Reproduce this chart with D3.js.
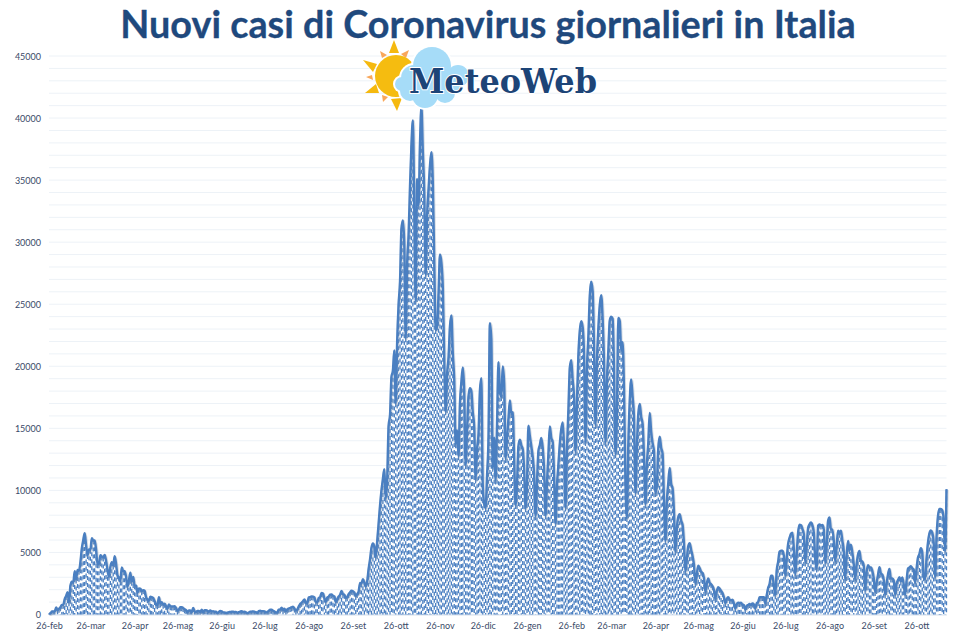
<!DOCTYPE html>
<html>
<head>
<meta charset="utf-8">
<script src="https://cdn.jsdelivr.net/npm/d3@7"></script>
<style>
  html, body { margin: 0; padding: 0; background: #fff; }
  svg { display: block; }
</style>
</head>
<body>
<script>
// daily new cases, month by month, starting 26 feb 2020
const feb20 = [93, 78, 250, 238];
const mar20 = [240, 566, 347, 466, 587, 769, 778, 1247, 1492, 1797, 977, 2313, 2651, 2547, 3497, 2823, 3590, 3531, 4207, 5322, 5986, 6557, 5560, 4789, 5249, 5210, 6153, 5959, 5974, 5217, 4050];
const apr20 = [4053, 4782, 4668, 4585, 4805, 4316, 3599, 3039, 3836, 4204, 3951, 4694, 4092, 3153, 2972, 2667, 3786, 3493, 3491, 3047, 2256, 2729, 3370, 2646, 3021, 2357, 2324, 1739, 2091, 2086];
const may20 = [1872, 1965, 1900, 1389, 1221, 1075, 1444, 1401, 1327, 1083, 802, 744, 1402, 888, 992, 789, 875, 675, 451, 813, 665, 642, 652, 669, 531, 300, 397, 584, 593, 516, 416];
const jun20 = [355, 178, 318, 321, 177, 518, 270, 197, 280, 283, 202, 379, 163, 346, 338, 301, 210, 328, 251, 262, 224, 218, 122, 190, 296, 259, 175, 174, 126, 142];
const jul20 = [187, 201, 223, 235, 192, 208, 138, 193, 229, 276, 188, 234, 169, 114, 162, 230, 233, 249, 219, 190, 129, 280, 306, 252, 275, 255, 170, 212, 289, 386, 379];
const aug20 = [295, 239, 159, 190, 384, 402, 552, 347, 463, 259, 412, 481, 523, 574, 629, 479, 320, 403, 642, 845, 947, 1071, 1210, 953, 878, 1367, 1411, 1462, 1444, 1365, 996];
const sep20 = [978, 1326, 1397, 1733, 1695, 1297, 1008, 1370, 1434, 1597, 1616, 1501, 1458, 1008, 1229, 1452, 1585, 1907, 1638, 1587, 1350, 1392, 1640, 1786, 1912, 1869, 1766, 1494, 1648, 1851];
const oct20 = [2548, 2499, 2844, 2578, 2257, 2677, 3678, 4458, 5372, 5724, 5456, 4619, 5901, 7332, 8804, 10010, 10925, 11705, 9338, 10874, 15199, 16079, 19143, 19644, 21273, 17012, 21994, 24991, 26831, 31084, 31758];
const nov20 = [29907, 22253, 28244, 30550, 34505, 37809, 39811, 32616, 25271, 35098, 32961, 37978, 40902, 37255, 33979, 27354, 32191, 34283, 36176, 37242, 34767, 28337, 22930, 23232, 25853, 29003, 28352, 26323, 20648, 16377];
const dec20 = [19350, 20709, 23225, 24099, 21052, 18887, 13720, 14842, 12756, 16999, 18727, 19903, 17938, 12030, 14844, 17572, 18236, 17992, 16308, 15104, 10872, 13318, 14522, 18040, 19037, 10407, 8913, 8585, 11212, 14245, 23477];
const jan21 = [22211, 11831, 14245, 10800, 15378, 20331, 18020, 17533, 19978, 18627, 12532, 14242, 15774, 17246, 16146, 16310, 12545, 8824, 10497, 13571, 14078, 13633, 13331, 11629, 8562, 10593, 15204, 14372, 13574, 12715, 11252];
const feb21 = [7925, 10630, 13189, 13659, 14218, 13442, 11641, 7969, 10630, 12956, 15146, 14234, 13908, 11068, 7351, 10386, 12074, 13762, 14931, 15479, 13452, 8620, 13314, 16424, 19886, 20499, 18916, 17455];
const mar21 = [13114, 17083, 20884, 22865, 23641, 23146, 20765, 13902, 19749, 22409, 25673, 26824, 26062, 21315, 15267, 20396, 23059, 24935, 25735, 23832, 20159, 13846, 18765, 21267, 23696, 23987, 23839, 19611, 12916, 16017, 23904];
const apr21 = [23649, 21261, 21932, 18025, 10680, 7767, 13708, 17221, 18938, 17567, 15746, 9789, 13447, 16168, 16974, 15943, 15370, 12694, 8864, 12074, 13844, 16232, 14761, 13817, 13158, 9789, 10404, 13385, 14320, 13446];
const may21 = [12965, 9148, 5948, 9116, 10585, 11807, 10554, 10176, 8292, 5080, 6946, 7852, 8085, 7567, 7234, 5753, 3455, 4452, 5506, 5741, 5218, 4717, 3995, 2490, 3224, 3937, 3738, 3447, 3351, 2949, 1820];
const jun21 = [2483, 2897, 2557, 2436, 2275, 1968, 1273, 1896, 2199, 2079, 1901, 1723, 1390, 907, 1255, 1400, 1197, 1147, 1197, 881, 495, 835, 953, 927, 951, 786, 778, 381, 679, 776];
const jul21 = [845, 753, 882, 808, 480, 907, 1010, 1394, 1390, 1400, 1391, 888, 1554, 2153, 2455, 3121, 3127, 2329, 1552, 3558, 4259, 5057, 5143, 5140, 4743, 3117, 4522, 5696, 6171, 6513, 6599];
const aug21 = [5321, 3190, 4845, 6596, 7230, 7210, 6902, 6487, 4197, 5512, 6968, 7270, 7409, 7188, 6599, 4456, 3700, 7162, 7260, 7162, 7224, 6860, 4168, 5559, 7548, 7826, 6860, 6861, 5959, 4257, 5498];
const sep21 = [6761, 6503, 6761, 5959, 5117, 2800, 4720, 5923, 5193, 5621, 5000, 4060, 2800, 4021, 4830, 5117, 4361, 4260, 3930, 1932, 3377, 3970, 3797, 3797, 3525, 2923, 1820, 2529, 3212, 3804];
const oct21 = [3312, 3212, 2800, 1612, 2466, 3235, 3677, 2900, 2900, 2748, 1597, 2494, 2772, 3000, 2668, 2983, 2437, 1597, 2697, 3702, 3794, 3882, 3725, 3618, 2535, 3655, 4598, 4866, 5335, 5000, 3000];
const nov21 = [2834, 4500, 5800, 6524, 6764, 6600, 5800, 3000, 6200, 7900, 8500, 8500, 8400, 7700, 5100, 10100];

const tickDates = ['2020-02-26', '2020-03-26', '2020-04-26', '2020-05-26', '2020-06-26', '2020-07-26', '2020-08-26', '2020-09-26', '2020-10-26', '2020-11-26', '2020-12-26', '2021-01-26', '2021-02-26', '2021-03-26', '2021-04-26', '2021-05-26', '2021-06-26', '2021-07-26', '2021-08-26', '2021-09-26', '2021-10-26'];
const tickLabels = ['26-feb', '26-mar', '26-apr', '26-mag', '26-giu', '26-lug', '26-ago', '26-set', '26-ott', '26-nov', '26-dic', '26-gen', '26-feb', '26-mar', '26-apr', '26-mag', '26-giu', '26-lug', '26-ago', '26-set', '26-ott'];
const yTicks = [0, 5000, 10000, 15000, 20000, 25000, 30000, 35000, 40000, 45000];
const yGrid = d3.range(0, 46000, 1000);

const cases = [].concat(feb20, mar20, apr20, may20, jun20, jul20, aug20, sep20, oct20, nov20, dec20, jan21, feb21, mar21, apr21, may21, jun21, jul21, aug21, sep21, oct21, nov21);

const w = 963;
const h = 640;
const margin = { top: 56, right: 16.5, bottom: 25.5, left: 49 };
const lineColor = '#4a7fc1';
const parseDay = d3.utcParse('%Y-%m-%d');

const startDay = parseDay('2020-02-26');
const data = cases.map((v, i) => ({ date: d3.utcDay.offset(startDay, i), value: v }));

const svg = d3.select('body').append('svg')
    .attr('width', w)
    .attr('height', h);

const xScale = d3.scaleUtc()
    .domain(d3.extent(data, d => d.date))
    .range([margin.left, w - margin.right]);

const yScale = d3.scaleLinear()
    .domain([0, 45000])
    .range([h - margin.bottom, margin.top]);

// gridlines every 1000
svg.append('g').selectAll('line')
    .data(yGrid)
    .enter()
    .append('line')
    .attr('x1', margin.left)
    .attr('x2', w - margin.right)
    .attr('y1', d => yScale(d))
    .attr('y2', d => yScale(d))
    .attr('stroke', '#edf2f7')
    .attr('stroke-width', 1);

// x axis
const xAxis = d3.axisBottom(xScale)
    .tickValues(tickDates.map(parseDay))
    .tickSize(0)
    .tickPadding(8)
    .tickFormat((d, i) => tickLabels[i]);

const xAxisG = svg.append('g')
    .attr('transform', `translate(0,${h - margin.bottom})`)
    .call(xAxis);
xAxisG.select('.domain').attr('stroke', '#d5e0ec');
xAxisG.selectAll('text')
    .attr('fill', '#3a4a68')
    .style('font-family', 'Lato')
    .style('font-size', '9px');

// y axis
const yAxis = d3.axisLeft(yScale)
    .tickValues(yTicks)
    .tickSize(0)
    .tickPadding(8)
    .tickFormat(d3.format('d'));

const yAxisG = svg.append('g')
    .attr('transform', `translate(${margin.left},0.5)`)
    .call(yAxis);
yAxisG.select('.domain').remove();
yAxisG.selectAll('text')
    .attr('fill', '#3a4a68')
    .style('font-family', 'Lato')
    .style('font-size', '9px');

// dashed drop lines, one per day
svg.append('g').selectAll('line')
    .data(data)
    .enter()
    .append('line')
    .attr('x1', d => xScale(d.date))
    .attr('x2', d => xScale(d.date))
    .attr('y1', d => yScale(d.value))
    .attr('y2', yScale(0))
    .attr('stroke', lineColor)
    .attr('stroke-width', 1.3)
    .attr('stroke-dasharray', '4,3');

const line = d3.line()
    .x(d => xScale(d.date))
    .y(d => yScale(d.value))
    .curve(d3.curveMonotoneX);

svg.append('path')
    .datum(data)
    .attr('d', line)
    .attr('fill', 'none')
    .attr('stroke', '#8f9db0')
    .attr('stroke-opacity', 0.35)
    .attr('stroke-width', 3.2)
    .attr('transform', 'translate(0.6,0.8)');

svg.append('path')
    .datum(data)
    .attr('d', line)
    .attr('fill', 'none')
    .attr('stroke', lineColor)
    .attr('stroke-width', 2.4)
    .attr('stroke-linejoin', 'round');

// title
svg.append('text')
    .attr('x', 488)
    .attr('y', 37.5)
    .attr('text-anchor', 'middle')
    .attr('fill', '#1f497d')
    .attr('stroke', '#1f497d')
    .attr('stroke-width', 0.3)
    .style('font-family', 'Lato')
    .style('font-weight', 'bold')
    .style('font-size', '37.8px')
    .text('Nuovi casi di Coronavirus giornalieri in Italia');

// MeteoWeb logo
const logo = svg.append('g');
const sunRays = ['394,40 399,53 389,53', '363,60 377,64 373,72', '365,93 376,84 379,93', '397,111 391,99 402,98'];
const smallRays = ['380,51 387,55 382,58', '409,50 406,58 401,54', '366,77 372,75 373,80', '382,95 388,97 383,102'];
logo.selectAll('.ray').data(sunRays).enter().append('polygon').attr('points', d => d).attr('fill', '#f5b90f');
logo.selectAll('.sray').data(smallRays).enter().append('polygon').attr('points', d => d).attr('fill', '#f9a75a');
logo.append('circle').attr('cx', 396).attr('cy', 76).attr('r', 21).attr('fill', '#f5bc10');
const cloudBlobs = [[432, 66, 19], [414, 78, 13], [402, 84, 7], [410, 91, 10], [425, 95, 13], [445, 93, 10], [458, 76, 11], [450, 85, 10]];
logo.selectAll('.halo').data(cloudBlobs).enter().append('circle')
    .attr('cx', d => d[0]).attr('cy', d => d[1]).attr('r', d => d[2] + 2).attr('fill', '#fff');
logo.selectAll('.blob').data(cloudBlobs).enter().append('circle')
    .attr('cx', d => d[0]).attr('cy', d => d[1]).attr('r', d => d[2]).attr('fill', '#a6dcf8');
logo.append('text')
    .attr('x', 409)
    .attr('y', 93)
    .attr('textLength', 188)
    .attr('lengthAdjust', 'spacingAndGlyphs')
    .attr('fill', '#1d4477')
    .attr('stroke', '#fff')
    .attr('stroke-width', 2)
    .attr('paint-order', 'stroke')
    .style('font-family', 'DejaVu Serif')
    .style('font-weight', 'bold')
    .style('font-size', '34px')
    .text('MeteoWeb');
</script>
</body>
</html>
